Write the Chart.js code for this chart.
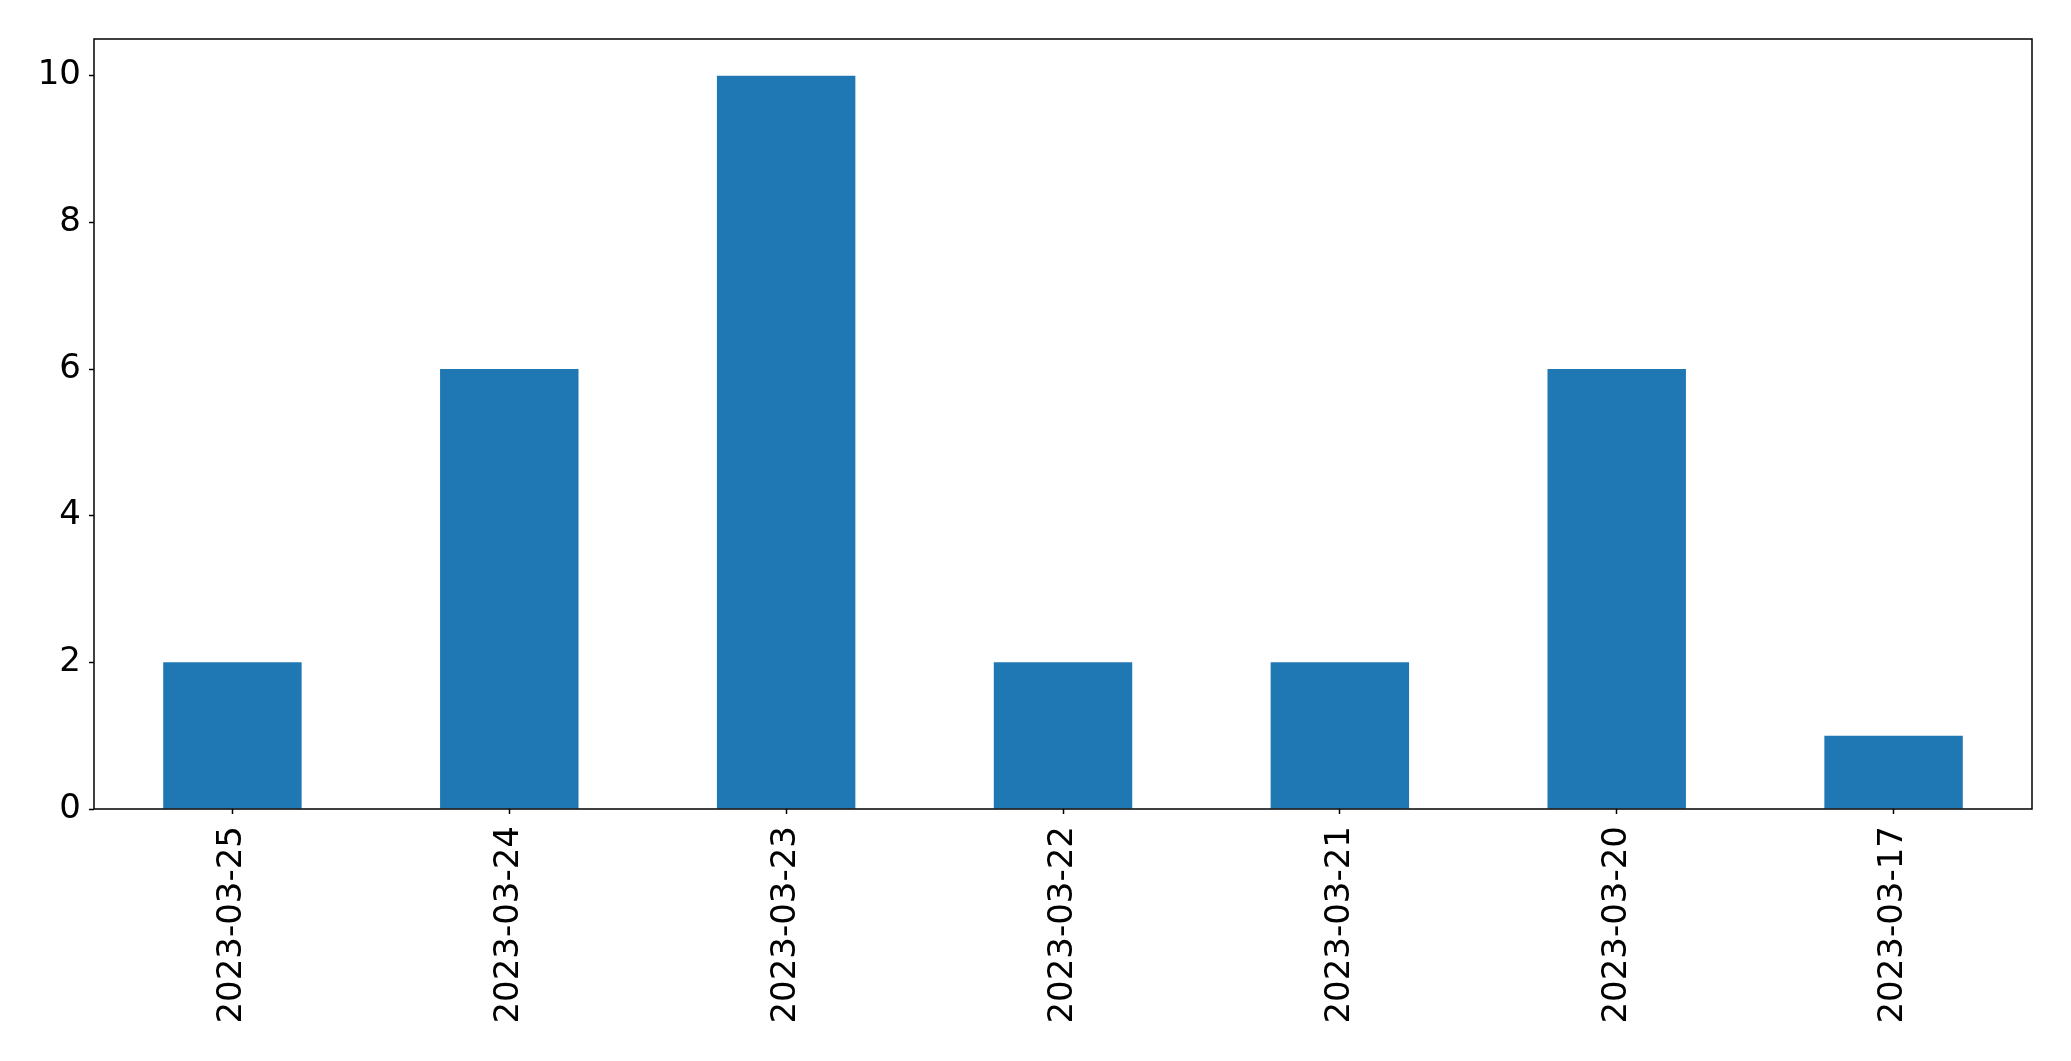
<!DOCTYPE html>
<html>
<head>
<meta charset="utf-8">
<script src="https://cdn.jsdelivr.net/npm/chart.js@4/dist/chart.umd.min.js"></script>
<style>
  html, body { margin: 0; padding: 0; background: #fff; }
  #wrap { width: 2071px; height: 1061px; }
</style>
</head>
<body>
<div id="wrap"><canvas id="barChart" width="2071" height="1061"></canvas></div>
<script>
var dates = ['2023-03-25', '2023-03-24', '2023-03-23', '2023-03-22', '2023-03-21', '2023-03-20', '2023-03-17'];
var counts = [2, 6, 10, 2, 2, 6, 1];
var yTicks = [0, 2, 4, 6, 8, 10];

var frame = {
  id: 'frame',
  afterDraw: function (chart) {
    var a = chart.chartArea;
    var ctx = chart.ctx;
    ctx.save();
    ctx.strokeStyle = '#000';
    ctx.lineWidth = 1.5;
    ctx.strokeRect(a.left, a.top, a.right - a.left, a.bottom - a.top);
    ctx.restore();
  }
};

var ctx = document.getElementById('barChart').getContext('2d');
new Chart(ctx, {
  type: 'bar',
  data: {
    labels: dates,
    datasets: [{
      data: counts,
      backgroundColor: '#1f77b4',
      borderWidth: 0,
      categoryPercentage: 1.0,
      barPercentage: 0.5
    }]
  },
  options: {
    responsive: false,
    animation: false,
    layout: { padding: { top: 39, right: 39, left: 0, bottom: 0 } },
    plugins: { legend: { display: false }, tooltip: { enabled: false } },
    scales: {
      x: {
        offset: true,
        grid: { display: true, offset: false, drawOnChartArea: false, drawTicks: true, tickLength: 5, tickWidth: 1.5, tickColor: '#000' },
        border: { display: false },
        ticks: {
          color: '#000',
          font: { family: 'DejaVu Sans', size: 34 },
          minRotation: 90,
          maxRotation: 90,
          autoSkip: false,
          padding: 12
        },
        afterFit: function (scale) { scale.height = 252; }
      },
      y: {
        min: 0,
        max: 10.5,
        grid: { display: true, drawOnChartArea: false, drawTicks: true, tickLength: 5, tickWidth: 1.5, tickColor: '#000' },
        border: { display: false },
        ticks: {
          color: '#000',
          font: { family: 'DejaVu Sans', size: 34 },
          padding: 8
        },
        afterBuildTicks: function (scale) {
          scale.ticks = yTicks.map(function (v) { return { value: v }; });
        },
        afterFit: function (scale) { scale.width = 94; }
      }
    }
  },
  plugins: [frame]
});
</script>
</body>
</html>
